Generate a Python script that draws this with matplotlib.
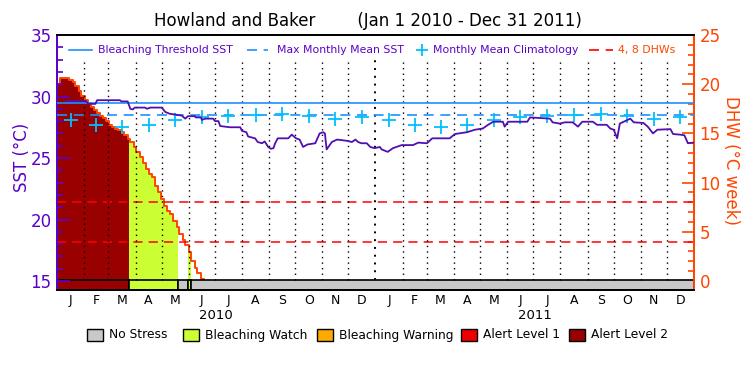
import numpy as np
import matplotlib
matplotlib.use('Agg')
import matplotlib.pyplot as plt
from matplotlib.lines import Line2D
from matplotlib.patches import Rectangle
from matplotlib.ticker import MultipleLocator

W, H = 750, 375  # output size in pixels

# ---- data (days counted from Jan 1 2010) ----
mmm = 28.47          # max monthly mean SST
threshold = 29.47    # bleaching threshold = MMM + 1
dhw_lines = [4, 8]

# monthly mean climatology, Jan..Dec
clim = [28.1, 27.7, 27.5, 27.7, 28.05, 28.35, 28.45, 28.5, 28.55, 28.45, 28.2, 28.3]

# degree heating weeks, twice-weekly values from Jan 1 2010 (0 afterwards)
dhw_step = 3.5
dhw = [20.0, 20.6, 20.6, 20.6, 20.4, 20.2, 19.8, 19.3, 18.8, 18.4,
       18.05, 17.7, 17.4, 17.1, 16.8, 16.6, 16.3, 15.9, 15.6, 15.4,
       15.3, 15.1, 14.8, 14.4, 14.1, 13.6, 13.1, 12.6, 12.0, 11.4,
       10.9, 10.6, 9.7, 9.0, 8.3, 7.6, 7.1, 6.8, 6.1, 5.5,
       4.8, 4.2, 3.7, 2.9, 2.0, 1.3, 0.8, 0.2, 0.0]

# satellite SST (day, value)
sst_day = [10, 33, 36, 44, 46, 72, 74, 81, 84, 87, 89, 101, 103, 107, 120, 124, 129,
           143, 147, 150, 158, 159, 165, 166, 170, 179, 181, 185, 187, 198, 210, 212,
           217, 219, 227, 230, 235, 238, 242, 245, 248, 250, 253, 265, 269, 274, 278,
           282, 287, 296, 301, 305, 307, 309, 315, 321, 332, 338, 342, 345, 349, 355,
           359, 364, 370, 372, 379, 385, 395, 408, 414, 424, 430, 450, 456, 470, 479,
           488, 494, 500, 511, 513, 517, 539, 542, 554, 565, 568, 576, 582, 591, 597,
           602, 614, 619, 630, 634, 638, 642, 645, 657, 661, 672, 677, 683, 688, 703,
           706, 714, 719, 723, 729]
sst_val = [29.65, 29.65, 29.4, 29.4, 29.7, 29.7, 29.6, 29.6, 29.0, 28.95, 29.1, 29.1,
           29.0, 29.1, 29.1, 28.75, 28.6, 28.45, 28.2, 28.4, 28.4, 28.3, 28.3, 28.1,
           28.2, 28.2, 28.0, 28.0, 27.6, 27.5, 27.5, 27.2, 27.1, 26.75, 26.6, 26.3,
           26.2, 26.35, 25.9, 25.75, 25.8, 26.2, 26.6, 26.6, 26.9, 26.6, 26.5, 25.9,
           26.1, 26.2, 27.0, 27.1, 27.0, 25.7, 26.3, 26.5, 26.4, 26.3, 26.5, 26.3,
           26.2, 26.2, 25.9, 25.8, 25.9, 25.7, 25.5, 25.8, 26.05, 26.05, 26.25, 26.2,
           26.6, 26.6, 26.95, 27.1, 27.3, 27.4, 27.7, 27.95, 27.95, 27.55, 27.95,
           27.95, 28.3, 28.25, 28.2, 27.9, 27.8, 27.9, 27.9, 27.55, 27.95, 27.95, 27.7,
           27.7, 27.4, 27.3, 26.6, 27.8, 28.2, 27.9, 27.85, 27.55, 27.0, 27.3, 27.35,
           26.95, 26.9, 26.85, 26.2, 26.25]

# stress level segments: start day, level (0 none,1 watch,2 warning,3 alert1,4 alert2)
status_start = [0, 83, 139, 150, 153]
status_level = [4, 1, 0, 1, 0]
n_days = 730

level_names = ['No Stress', 'Bleaching Watch', 'Bleaching Warning', 'Alert Level 1', 'Alert Level 2']
level_colors = ['#C8C8C8', '#CCFF33', '#FFAA00', '#EE0000', '#990000']
month_letters = list('JFMAMJJASOND')
years = ['2010', '2011']

purple = '#5A00C8'
orange = '#FF4500'
blue = '#1E90FF'
cyan = '#00BFFF'

# ---- derived positions ----
m = np.arange('2010-01', '2012-02', dtype='datetime64[M]').astype('datetime64[D]')
month_start = (m - m[0]).astype(int)
month_mid = (month_start[:-1] + month_start[1:]) / 2.0

days = np.arange(n_days + 1)
idx = np.minimum((days / dhw_step).astype(int), len(dhw) - 1)
dhw_daily = np.array(dhw)[idx]
status_daily = np.zeros(n_days + 1, dtype=int)
for s, lv in zip(status_start, status_level):
    status_daily[s:] = lv

fig = plt.figure(figsize=(W / 100, H / 100), dpi=100)
axd = fig.add_axes([57 / W, 1 - 290 / H, 637 / W, 255 / H])
axs = axd.twinx()

# DHW fill coloured by stress level
for lv in range(1, 5):
    mask = status_daily == lv
    if mask.any():
        m2 = mask.copy()
        m2[1:] |= mask[:-1]
        axd.fill_between(days, 0, dhw_daily, where=m2, step='post',
                         color=level_colors[lv], lw=0, zorder=1)
last = int(np.nonzero(dhw_daily)[0][-1]) + 1
axd.step(days[:last + 1], dhw_daily[:last + 1], where='post', color=orange, lw=1.4, zorder=3)

for v in dhw_lines:
    axd.axhline(v, color='red', ls=(0, (6, 4)), lw=1.1, zorder=4)

# status bar
bar_lo, bar_hi = -0.92, 0.1
bounds = status_start + [n_days]
for i, lv in enumerate(status_level):
    axd.add_patch(Rectangle((bounds[i], bar_lo), bounds[i + 1] - bounds[i], bar_hi - bar_lo,
                            facecolor=level_colors[lv], edgecolor='black', lw=1.2, zorder=5))

axd.set_xlim(0, n_days)
axd.set_ylim(bar_lo, 25)
axs.set_ylim(14.27, 35)

# month grid lines
for d in month_start[1:-1]:
    lw = 1.4 if d == 365 else 1.0
    axs.vlines(d, 15.05, 33.0, colors='black', linestyles=(0, (1, 3)), lw=lw, zorder=2)

axs.axhline(threshold, color=blue, lw=1.2, zorder=3)
axs.axhline(mmm, color=blue, ls=(0, (6, 4)), lw=1.2, zorder=3)
axs.plot(month_mid, clim * 2, ls='none', marker='+', ms=10, mew=1.3, color=cyan, zorder=4)
axs.plot(sst_day, sst_val, color='#5010B0', lw=1.3, zorder=5)

# axes styling
axs.yaxis.tick_left()
axs.yaxis.set_label_position('left')
axd.yaxis.tick_right()
axd.yaxis.set_label_position('right')
axs.yaxis.set_minor_locator(MultipleLocator(1))
axd.yaxis.set_minor_locator(MultipleLocator(1))
axs.set_yticks([15, 20, 25, 30, 35])
axd.set_yticks([0, 5, 10, 15, 20, 25])
axs.tick_params(axis='y', which='major', direction='in', length=9.5, width=1.2,
                colors=purple, labelsize=12, pad=4)
axs.tick_params(axis='y', which='minor', direction='in', length=4.5, width=1.2, colors=purple)
axd.tick_params(axis='y', which='major', direction='in', length=9, width=1.2,
                colors=orange, labelsize=12, pad=4)
axd.tick_params(axis='y', which='minor', direction='in', length=4.5, width=1.2, colors=orange)

for a in (axd, axs):
    a.spines['left'].set_color(purple)
    a.spines['right'].set_color(orange)
    a.spines['top'].set_color('black')
    a.spines['bottom'].set_color('black')
    for s in a.spines.values():
        s.set_linewidth(1.3)

axd.set_xticks(month_mid)
axd.set_xticklabels(month_letters * 2, fontsize=9)
axd.tick_params(axis='x', length=0, pad=3)
for i, y in enumerate(years):
    axd.text(182.5 + 365 * i, -0.1, y, transform=axd.get_xaxis_transform(),
             ha='center', va='center', fontsize=9.5)

fig.text(22 / W, 1 - 157 / H, 'SST (°C)', rotation=90, color=purple, fontsize=12,
         ha='center', va='center')
fig.text(731 / W, 1 - 160 / H, 'DHW (°C week)', rotation=270, color=orange, fontsize=12,
         ha='center', va='center')
fig.text(368 / W, 1 - 21 / H, 'Howland and Baker        (Jan 1 2010 - Dec 31 2011)',
         fontsize=12, ha='center', va='center')

# legend row inside the plot
ly = 1 - 50 / H
fs = 7.8
fig.add_artist(Line2D([69 / W, 92 / W], [ly, ly], color=blue, lw=1.2))
fig.text(98 / W, ly, 'Bleaching Threshold SST', color=purple, fontsize=fs, va='center')
fig.add_artist(Line2D([247 / W, 268 / W], [ly, ly], color=blue, lw=1.2, ls=(0, (6, 4))))
fig.text(277 / W, ly, 'Max Monthly Mean SST', color=purple, fontsize=fs, va='center')
fig.add_artist(Line2D([422 / W], [ly], color=cyan, marker='+', ms=9, mew=1.3, ls='none'))
fig.text(433 / W, ly, 'Monthly Mean Climatology', color=purple, fontsize=fs, va='center')
fig.add_artist(Line2D([589 / W, 613 / W], [ly, ly], color='red', lw=1.2, ls=(0, (6, 4))))
fig.text(618 / W, ly, '4, 8 DHWs', color=orange, fontsize=fs, va='center')

# stress level legend
by = 1 - 341 / H
box_x = [87, 183, 317, 461, 569]
for i, x in enumerate(box_x):
    fig.add_artist(Rectangle((x / W, by), 16 / W, 12 / H, transform=fig.transFigure,
                             facecolor=level_colors[i], edgecolor='black', lw=1))
    fig.text((x + 22) / W, by + 6 / H, level_names[i], fontsize=8.8, va='center')

fig.savefig('out.png', dpi=100)
